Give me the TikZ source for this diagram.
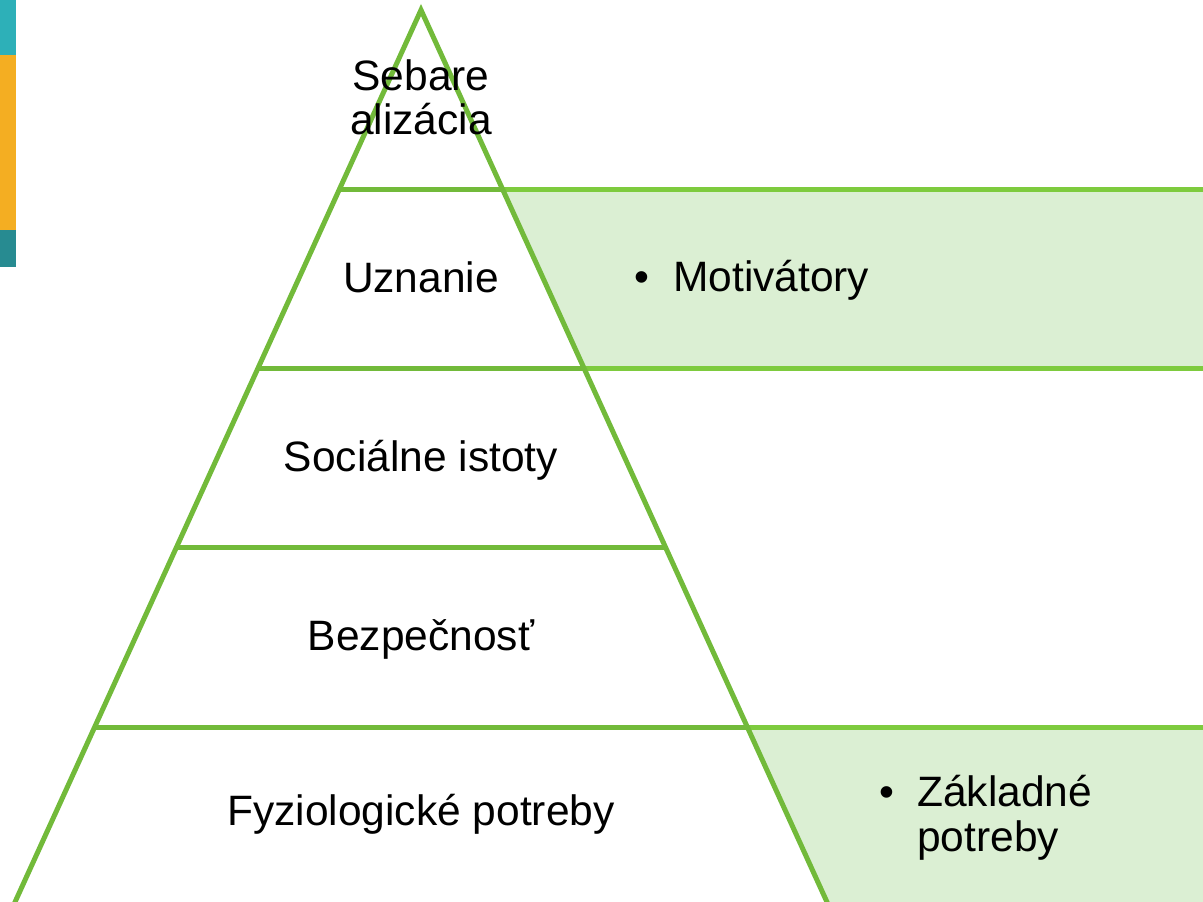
\documentclass[tikz,border=0pt]{standalone}
\usepackage{fontspec}
\setmainfont{Liberation Sans}
\definecolor{pyrline}{RGB}{114,186,58}
\definecolor{bandline}{RGB}{126,203,62}
\definecolor{bandfill}{RGB}{219,239,211}
\definecolor{cornerA}{RGB}{45,176,184}
\definecolor{cornerB}{RGB}{244,174,34}
\definecolor{cornerC}{RGB}{39,139,145}
\tikzset{
  pyr/.style={draw=pyrline, line width=5pt},
  bandedge/.style={draw=bandline, line width=5pt},
  band/.style={fill=bandfill},
  lbl/.style={inner sep=0pt, anchor=base, font=\fontsize{42.5}{45}\selectfont},
  bul/.style={inner sep=0pt, anchor=base west, font=\fontsize{42.5}{45}\selectfont},
}
\begin{document}
\begin{tikzpicture}[x=1pt, y=-1pt]
\useasboundingbox (0,0) rectangle (1203,902);
\begin{scope}
\clip (0,0) rectangle (1203,902);
% corner decoration
\fill[cornerA] (0,0) rectangle (16,55);
\fill[cornerB] (0,55) rectangle (16,230);
\fill[cornerC] (0,230) rectangle (16,267);
% green bands
\fill[band] (502.4,189) -- (1210,189) -- (1210,368) -- (583.9,368) -- cycle;
\fill[band] (747.2,727) -- (1210,727) -- (1210,910) -- (830.6,910) -- cycle;
\draw[bandedge] (502.4,189) -- (1210,189);
\draw[bandedge] (583.9,368) -- (1210,368);
\draw[bandedge] (747.2,727) -- (1210,727);
% pyramid
\coordinate (apex) at (421,10);
\coordinate (bl) at (11.4,910);
\coordinate (br) at (830.6,910);
\draw[pyr, line join=miter] (bl) -- (apex) -- (br);
\draw[pyr] (339.6,189) -- (502.4,189);
\draw[pyr] (258.1,368) -- (583.9,368);
\draw[pyr] (176.7,547) -- (665.3,547);
\draw[pyr] (94.8,727) -- (747.2,727);
\end{scope}
% labels
\node[lbl] (l1a) at (421,90) {Sebare};
\node[lbl] (l1b) at (421,134) {alizácia};
\node[lbl] (l2) at (421,292) {Uznanie};
\node[lbl] (l3) at (421,471) {Sociálne istoty};
\node[lbl] (l4) at (421,650) {Bezpečnosť};
\node[lbl] (l5) at (421,825) {Fyziologické potreby};
\node[bul] (b1) at (634,291) {•};
\node[bul] (t1) at (673,291) {Motivátory};
\node[bul] (b2) at (879,806) {•};
\node[bul] (t2a) at (917,806) {Základné};
\node[bul] (t2b) at (917,851) {potreby};
\end{tikzpicture}
\end{document}
